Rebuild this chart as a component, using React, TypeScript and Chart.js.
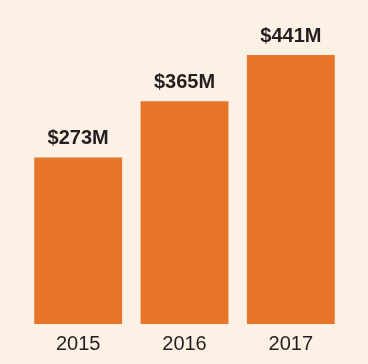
import React, { useEffect, useRef } from "react";
import { Chart, registerables } from "chart.js";

Chart.register(...registerables);

const categories = ["2015", "2016", "2017"];
const revenue = [273, 365, 441];
const valuePrefix = "$";
const valueSuffix = "M";

const BG = "#fdf0e4";
const BAR = "#e8742a";
const TEXT = "#231f20";

const valueLabelPlugin = {
  id: "valueLabels",
  afterDatasetsDraw(chart: any) {
    const ctx = chart.ctx;
    const meta = chart.getDatasetMeta(0);
    ctx.save();
    ctx.fillStyle = TEXT;
    ctx.font = "bold 20px 'Liberation Sans', Arial, sans-serif";
    ctx.textAlign = "center";
    ctx.textBaseline = "alphabetic";
    meta.data.forEach((el: any, i: number) => {
      const v = chart.data.datasets[0].data[i];
      ctx.fillText(valuePrefix + v + valueSuffix, el.x, el.y - 13);
    });
    ctx.restore();
  },
};

export default function App() {
  const ref = useRef<HTMLCanvasElement>(null);
  useEffect(() => {
    document.body.style.margin = "0";
    document.body.style.background = BG;
    const chart = new Chart(ref.current as HTMLCanvasElement, {
      type: "bar",
      data: {
        labels: categories,
        datasets: [
          {
            data: revenue,
            backgroundColor: BAR,
            borderWidth: 0,
            barPercentage: 0.826,
            categoryPercentage: 1,
          },
        ],
      },
      options: {
        responsive: false,
        animation: false,
        layout: { padding: { top: 22, left: 25, right: 24, bottom: 0 } },
        plugins: {
          legend: { display: false },
          tooltip: { enabled: false },
        },
        scales: {
          x: {
            grid: { display: false, drawTicks: false },
            border: { display: false },
            ticks: {
              color: TEXT,
              padding: 8,
              font: { size: 20, family: "'Liberation Sans', Arial, sans-serif" },
            },
          },
          y: {
            display: false,
            min: 0,
            max: 495,
          },
        },
      },
      plugins: [valueLabelPlugin],
    });
    return () => chart.destroy();
  }, []);
  return (
    <div style={{ width: 368, height: 364, background: BG }}>
      <canvas ref={ref} width={368} height={364} />
    </div>
  );
}
